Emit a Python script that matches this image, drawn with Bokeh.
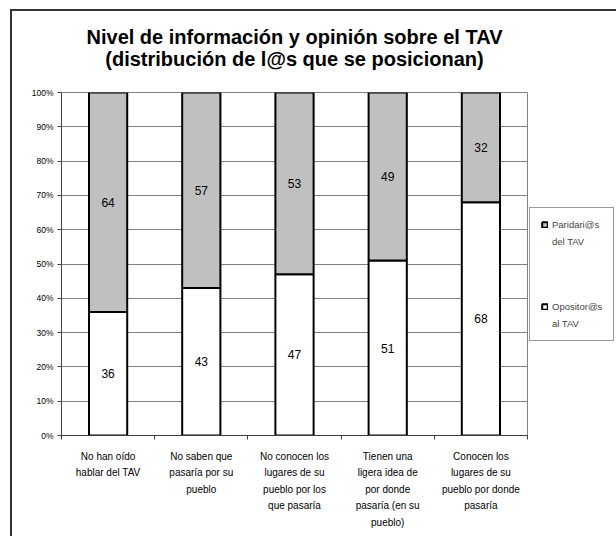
from bokeh.plotting import figure
from bokeh.models import (ColumnDataSource, Range1d, FixedTicker, LinearAxis, Title,
                          Legend, LegendItem)
from bokeh.core.properties import value
from bokeh.embed import file_html
from bokeh.resources import INLINE

# ---- data ----
categories = [
    "No han oído\nhablar del TAV",
    "No saben que\npasaría por su\npueblo",
    "No conocen los\nlugares de su\npueblo por los\nque pasaría",
    "Tienen una\nligera idea de\npor donde\npasaría (en su\npueblo)",
    "Conocen los\nlugares de su\npueblo por donde\npasaría",
]
opositores = [36, 43, 47, 51, 68]
partidarios = [64, 57, 53, 49, 32]
y_ticks = [0, 10, 20, 30, 40, 50, 60, 70, 80, 90, 100]
y_tick_labels = [f"{t}%" for t in y_ticks]
series_names = ["Paridari@s\ndel TAV", "Opositor@s\nal TAV"]
title_lines = ["Nivel de información y opinión sobre el TAV",
               "(distribución de l@s que se posicionan)"]

FONT = "Liberation Sans"
W, H = 616, 536
# frame in page pixels
X0, X1, Y0, Y1 = 61, 527, 92, 435

n = len(categories)
xs = [i + 0.5 for i in range(n)]
src = ColumnDataSource(dict(
    x=xs,
    op=opositores,
    top=[o + p for o, p in zip(opositores, partidarios)],
    op_mid=[o / 2 for o in opositores],
    par_mid=[o + p / 2 for o, p in zip(opositores, partidarios)],
    op_txt=[str(o) for o in opositores],
    par_txt=[str(p) for p in partidarios],
))

p = figure(width=W, height=H, frame_width=X1 - X0, frame_height=Y1 - Y0,
           x_range=Range1d(0, n), y_range=Range1d(0, 100),
           output_backend="svg", toolbar_location=None, x_axis_location=None,
           min_border_left=X0, min_border_right=W - X1,
           min_border_top=Y0, min_border_bottom=H - Y1)
p.background_fill_color = "white"
p.border_fill_color = None
p.outline_line_color = "#808080"
p.outline_line_width = 1
# outer chart frame (left and top edges visible, the rest runs off the page)
p.styles = {"box-shadow": "inset 10px 9px 0 0 #ffffff, inset 12px 11px 0 0 #333333",
            "background-color": "white"}

p.xgrid.visible = False
p.ygrid.grid_line_color = "#808080"
p.ygrid.grid_line_width = 1
p.ygrid.ticker = FixedTicker(ticks=y_ticks)

# y axis
p.yaxis.ticker = FixedTicker(ticks=y_ticks)
p.yaxis.major_label_overrides = {t: l for t, l in zip(y_ticks, y_tick_labels)}
p.yaxis.axis_line_color = "#404040"
p.yaxis.axis_line_width = 1
p.yaxis.major_tick_line_color = "#404040"
p.yaxis.major_tick_out = 4
p.yaxis.major_tick_in = 0
p.yaxis.minor_tick_line_color = None
p.yaxis.major_label_text_font = FONT
p.yaxis.major_label_text_font_size = "8.5px"
p.yaxis.major_label_text_color = "black"
p.yaxis.major_label_standoff = 4

# x axis: labels at category centres, small ticks at boundaries
xax = LinearAxis(ticker=FixedTicker(ticks=xs, minor_ticks=list(range(n + 1))))
xax.major_label_overrides = {x: c for x, c in zip(xs, categories)}
xax.axis_line_color = "#404040"
xax.major_tick_line_color = None
xax.minor_tick_line_color = "#404040"
xax.minor_tick_out = 4
xax.minor_tick_in = 0
xax.major_label_text_font = FONT
xax.major_label_text_font_size = "10px"
xax.major_label_text_color = "black"
xax.major_label_text_line_height = 1.5
xax.major_label_standoff = 9
xax.major_label_orientation = "horizontal"
p.add_layout(xax, "below")

# bars
r_op = p.vbar(x="x", width=0.41, bottom=0, top="op", source=src,
              fill_color="white", line_color="black", line_width=2)
r_par = p.vbar(x="x", width=0.41, bottom="op", top="top", source=src,
               fill_color="#C0C0C0", line_color="black", line_width=2)
r_blank = p.vbar(x=[], top=[], width=0.1, fill_alpha=0, line_alpha=0)

# value labels
p.text(x="x", y="op_mid", text="op_txt", source=src, text_align="center",
       text_baseline="middle", text_font=value(FONT), text_font_size="12px",
       text_color="black")
p.text(x="x", y="par_mid", text="par_txt", source=src, text_align="center",
       text_baseline="middle", text_font=value(FONT), text_font_size="12px",
       text_color="black")

# title (one two-line title)
p.title = None
ttl = Title(text="\n".join(title_lines), align="center", text_font=FONT,
            text_font_size="20px", text_font_style="bold", text_color="black",
            text_line_height=1.02, vertical_align="bottom", standoff=45)
try:
    ttl.text_align = "center"
except Exception:
    pass
p.add_layout(ttl, "above")

# legend: each label line is its own row, the glyph sits on the first line
par_lines = series_names[0].split("\n")
op_lines = series_names[1].split("\n")
items = [LegendItem(label=par_lines[0], renderers=[r_par])]
items += [LegendItem(label=t, renderers=[r_blank]) for t in par_lines[1:]]
items += [LegendItem(label=" ", renderers=[r_blank]) for _ in range(3)]
items += [LegendItem(label=op_lines[0], renderers=[r_op])]
items += [LegendItem(label=t, renderers=[r_blank]) for t in op_lines[1:]]
legend = Legend(items=items, location=(2, Y1 - 341))
legend.border_line_color = "#333333"
legend.border_line_width = 1
legend.background_fill_color = "white"
legend.background_fill_alpha = 1
legend.glyph_width = 7
legend.glyph_height = 7
legend.label_height = 10
legend.label_text_font = FONT
legend.label_text_font_size = "9.5px"
legend.label_standoff = 4
legend.spacing = 6
legend.padding = 11
legend.margin = 2
p.add_layout(legend, "right")

open("out.html", "w").write(file_html(p, INLINE))
